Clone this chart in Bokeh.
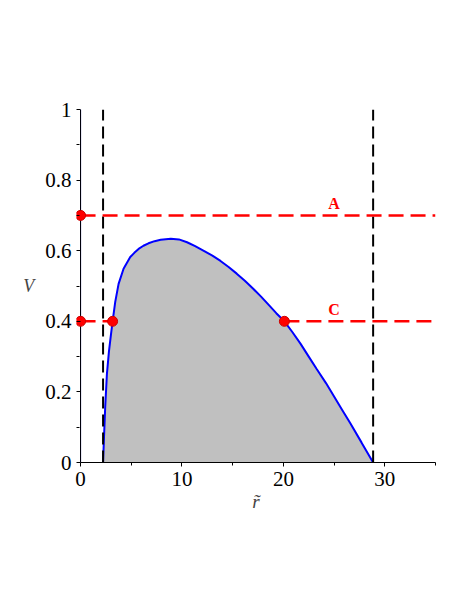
from bokeh.plotting import figure
from bokeh.models import Range1d, FixedTicker, NumeralTickFormatter
from bokeh.core.properties import value
from bokeh.embed import file_html
from bokeh.resources import INLINE

# ---- data ----
r_curve = [2.22, 2.30, 2.43, 2.60, 2.80, 3.00, 3.16, 3.42, 3.75, 4.24, 4.90, 5.30, 5.72,
           6.20, 6.70, 7.30, 7.90, 8.90, 9.70, 10.5, 11.3, 12.2, 13.0, 13.8, 14.6, 15.4,
           16.2, 17.0, 17.8, 18.6, 19.3, 20.1, 20.9, 21.7, 22.5, 23.3, 24.2, 25.0, 25.8,
           26.6, 27.7, 28.85]
V_curve = [0.0, 0.062, 0.157, 0.251, 0.315, 0.363, 0.400, 0.455, 0.506, 0.549, 0.582, 0.594, 0.605,
           0.614, 0.621, 0.627, 0.631, 0.634, 0.632, 0.624, 0.613, 0.599, 0.586, 0.571, 0.554, 0.535,
           0.515, 0.493, 0.470, 0.445, 0.423, 0.400, 0.369, 0.336, 0.300, 0.264, 0.225, 0.187, 0.149,
           0.111, 0.057, 0.0]

r_asymptotes = [2.22, 28.85]          # black dashed verticals
V_asym_low, V_asym_high = 0.0, 1.0

# red dashed energy levels: (start, end, level)
level_x0 = [0.0, 0.0, 20.1]
level_x1 = [35.0, 3.16, 35.0]
level_V = [0.7, 0.4, 0.4]

pts_r = [0.0, 0.0, 3.16, 20.1]
pts_V = [0.7, 0.4, 0.4, 0.4]

label_r = [25.0, 25.0]
label_V = [0.7, 0.4]
label_text = ["A", "C"]

edge_r = [0.0, 0.0]
edge_V = [0.0, 1.0]

x_ticks = [0, 10, 20, 30]
x_minor = [5, 15, 25, 35]
y_ticks = [0, 0.2, 0.4, 0.6, 0.8, 1]
y_minor = [0.1, 0.3, 0.5, 0.7, 0.9]

FONT = "Liberation Serif"

p = figure(frame_width=359, frame_height=353,
           min_border_left=76, min_border_top=109, min_border_right=29, min_border_bottom=141,
           x_range=Range1d(-0.4, 35), y_range=Range1d(0, 1),
           output_backend="svg", toolbar_location=None,
           background_fill_color="white", border_fill_color="white")
p.outline_line_color = None
p.grid.visible = False

# filled region and curve
p.varea(x=r_curve, y1=[0.0] * len(r_curve), y2=V_curve, fill_color="#C0C0C0")
p.line(x=edge_r, y=edge_V, line_color="blue", line_width=1)
p.line(x=r_curve, y=V_curve, line_color="blue", line_width=2)

# vertical dashed black lines
p.segment(x0=r_asymptotes, y0=[V_asym_low] * 2, x1=r_asymptotes, y1=[V_asym_high] * 2,
          line_color="black", line_width=2, line_dash="12 6")

# red dashed levels
p.segment(x0=level_x0, y0=level_V, x1=level_x1, y1=level_V,
          line_color="red", line_width=2.5, line_dash="15 7")

# vertical axis line drawn at r = 0
p.line(x=edge_r, y=edge_V, line_color="black", line_width=1)

# red points
pts = p.scatter(x=pts_r, y=pts_V, size=10, fill_color="red", line_color="#cc0000")

# labels A, C
p.text(x=label_r, y=label_V, text=label_text, text_color="red",
       text_font=value(FONT), text_font_style="bold", text_font_size="16px",
       text_align="center", text_baseline="bottom", y_offset=-3)

# axes
for ax in (p.xaxis[0], p.yaxis[0]):
    ax.axis_line_color = "black"
    ax.axis_line_width = 1
    ax.major_tick_line_color = "black"
    ax.minor_tick_line_color = "black"
    ax.major_label_text_font = FONT
    ax.major_label_text_font_size = "21px"
    ax.major_label_text_color = "black"

xax = p.xaxis[0]
xax.major_tick_in = 0
xax.major_tick_out = 4
xax.minor_tick_in = 0
xax.minor_tick_out = 3
xax.ticker = FixedTicker(ticks=x_ticks, minor_ticks=x_minor)
xax.bounds = (0, 35)
xax.major_label_standoff = 5
xax.axis_label = "r\u0303"
xax.axis_label_text_font = FONT
xax.axis_label_text_font_style = "italic"
xax.axis_label_text_font_size = "19px"
xax.axis_label_standoff = 2

yax = p.yaxis[0]
yax.axis_line_color = None
yax.major_tick_in = 4
yax.major_tick_out = 0
yax.minor_tick_in = 3
yax.minor_tick_out = 0
yax.ticker = FixedTicker(ticks=y_ticks, minor_ticks=y_minor)
yax.formatter = NumeralTickFormatter(format="0.[0]")
yax.major_label_standoff = 5
yax.axis_label = "V"
yax.axis_label_text_font = FONT
yax.axis_label_text_font_style = "italic"
yax.axis_label_text_font_size = "18px"
yax.axis_label_standoff = 8
if "axis_label_orientation" in yax.properties():
    yax.axis_label_orientation = "horizontal"

open("out.html", "w").write(file_html(p, INLINE))
